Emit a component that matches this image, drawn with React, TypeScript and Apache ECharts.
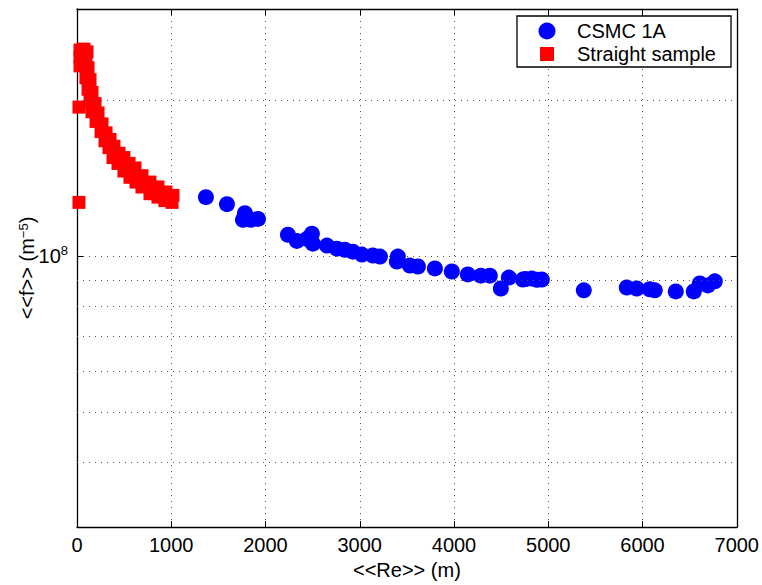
import React, { useEffect, useRef } from 'react';
import * as echarts from 'echarts';

// <<Re>> axis range and tick step
const reMin = 0;
const reMax = 7000;
const reStep = 1000;

// <<f>> log axis range
const fMin = 3e7;
const fMax = 3e8;

// dotted minor grid positions on the log axis
const fMinorGrid = [4e7, 5e7, 6e7, 7e7, 8e7, 9e7, 2e8];

// CSMC 1A
const csmcRe = [
  1368, 1591, 1782, 1761, 1845, 1920, 2238, 2333, 2492, 2503, 2440, 2652, 2758, 2842,
  2927, 3023, 3139, 3214, 3404, 3394, 3532, 3617, 3797, 3977, 4147, 4285, 4380, 4497,
  4582, 4730, 4760, 4826, 4880, 4932, 5377, 5833, 5939, 6077, 6130, 6353, 6544, 6608,
  6692, 6767,
];
const csmcF = [
  1.30e8, 1.26e8, 1.21e8, 1.175e8, 1.175e8, 1.18e8, 1.10e8, 1.07e8, 1.105e8, 1.057e8, 1.08e8, 1.048e8, 1.034e8, 1.029e8,
  1.02e8, 1.007e8, 1.003e8, 0.998e8, 0.998e8, 0.976e8, 0.959e8, 0.955e8, 0.947e8, 0.934e8, 0.922e8, 0.917e8, 0.917e8, 0.866e8,
  0.909e8, 0.901e8, 0.903e8, 0.905e8, 0.90e8, 0.901e8, 0.859e8, 0.870e8, 0.866e8, 0.863e8, 0.859e8, 0.855e8, 0.855e8, 0.886e8,
  0.878e8, 0.894e8,
];

// Straight sample
const straightRe = [
  21, 21, 32, 74, 32, 32, 106,
  95, 117, 138, 159, 191, 223, 265, 308, 350, 392, 445, 498, 552, 615, 689, 774, 859, 944, 1018,
  95, 117, 138, 159, 202, 255, 297, 339, 382, 435, 498, 562, 626, 689, 774, 859, 933, 1008,
];
const straightF = [
  1.94e8, 1.27e8, 2.50e8, 2.51e8, 2.42e8, 2.33e8, 2.48e8,
  2.42e8, 2.31e8, 2.19e8, 2.07e8, 1.97e8, 1.89e8, 1.80e8, 1.73e8, 1.68e8, 1.63e8, 1.58e8, 1.55e8, 1.51e8, 1.48e8, 1.43e8, 1.39e8, 1.36e8, 1.33e8, 1.31e8,
  2.21e8, 2.10e8, 1.99e8, 1.90e8, 1.82e8, 1.74e8, 1.67e8, 1.62e8, 1.55e8, 1.51e8, 1.46e8, 1.42e8, 1.39e8, 1.36e8, 1.32e8, 1.30e8, 1.28e8, 1.27e8,
];

const seriesNames = ['CSMC 1A', 'Straight sample'];

const FONT = 'Liberation Sans, Arial, Helvetica, sans-serif';
const GRID_DOT = { color: '#555', width: 1, type: [1, 5] as number[] };
const AXIS_LINE = { onZero: false, lineStyle: { color: '#000', width: 1.3 } };
const AXIS_TICK = { inside: true, length: 6, lineStyle: { color: '#000' } };

export default function App() {
  const ref = useRef<HTMLDivElement>(null);

  useEffect(() => {
    if (!ref.current) return;
    const chart = echarts.init(ref.current, null, { renderer: 'svg' });

    const zip = (xs: number[], ys: number[]) => xs.map((x, i) => [x, ys[i]]);

    chart.setOption({
      animation: false,
      backgroundColor: '#fff',
      grid: { left: 77, right: 24, top: 9, bottom: 55 },
      xAxis: [
        {
          type: 'value',
          min: reMin,
          max: reMax,
          interval: reStep,
          position: 'bottom',
          axisLine: AXIS_LINE,
          axisTick: AXIS_TICK,
          axisLabel: {
            color: '#000',
            fontSize: 20,
            fontFamily: FONT,
            margin: 8,
            formatter: (v: number) => String(v),
          },
          splitLine: { show: true, lineStyle: GRID_DOT },
          name: '<<Re>> (m)',
          nameLocation: 'middle',
          nameGap: 33,
          nameMoveOverlap: false,
          nameTextStyle: { color: '#000', fontSize: 20, fontFamily: FONT },
        },
        {
          type: 'value',
          min: reMin,
          max: reMax,
          interval: reStep,
          position: 'top',
          axisLine: AXIS_LINE,
          axisTick: AXIS_TICK,
          axisLabel: { show: false },
          splitLine: { show: false },
        },
      ],
      yAxis: [
        {
          type: 'log',
          logBase: 10,
          min: fMin,
          max: fMax,
          position: 'left',
          axisLine: AXIS_LINE,
          axisTick: AXIS_TICK,
          axisLabel: {
            color: '#000',
            margin: 9,
            formatter: (v: number) => (Math.abs(Math.log10(v) - 8) < 1e-6 ? '{b|10}{s|8}' : ''),
            rich: {
              b: { fontSize: 20, fontFamily: FONT, color: '#000', lineHeight: 24 },
              s: { fontSize: 13, fontFamily: FONT, color: '#000', verticalAlign: 'top', lineHeight: 13 },
            },
          },
          splitLine: { show: true, lineStyle: GRID_DOT },
          name: '<<f>> (m{s|−5})',
          nameLocation: 'middle',
          nameRotate: 90,
          nameGap: 40,
          nameMoveOverlap: false,
          nameTextStyle: {
            color: '#000',
            fontSize: 20,
            fontFamily: FONT,
            rich: {
              s: { fontSize: 13, fontFamily: FONT, color: '#000', verticalAlign: 'top', lineHeight: 13 },
            },
          },
        },
        {
          type: 'log',
          logBase: 10,
          min: fMin,
          max: fMax,
          position: 'right',
          axisLine: AXIS_LINE,
          axisTick: AXIS_TICK,
          axisLabel: { show: false },
          splitLine: { show: false },
        },
      ],
      series: [
        {
          name: 'grid',
          type: 'scatter',
          data: [],
          z: 1,
          silent: true,
          markLine: {
            silent: true,
            symbol: ['none', 'none'],
            label: { show: false },
            lineStyle: GRID_DOT,
            data: fMinorGrid.map((v) => ({ yAxis: v })),
          },
        },
        {
          name: seriesNames[0],
          type: 'scatter',
          symbol: 'circle',
          symbolSize: 16,
          itemStyle: { color: '#0000ff', opacity: 1 },
          data: zip(csmcRe, csmcF),
          z: 3,
        },
        {
          name: seriesNames[1],
          type: 'scatter',
          symbol: 'rect',
          symbolSize: 13,
          itemStyle: { color: '#ff0000', opacity: 1 },
          data: zip(straightRe, straightF),
          z: 3,
        },
      ],
      graphic: [
        {
          type: 'rect',
          z: 10,
          shape: { x: 517, y: 16, width: 214, height: 51 },
          style: { fill: '#fff', stroke: '#000', lineWidth: 1.3 },
        },
        {
          type: 'circle',
          z: 11,
          shape: { cx: 547, cy: 31, r: 8.5 },
          style: { fill: '#0000ff' },
        },
        {
          type: 'rect',
          z: 11,
          shape: { x: 540, y: 47, width: 14, height: 14 },
          style: { fill: '#ff0000' },
        },
        {
          type: 'text',
          z: 11,
          x: 577,
          y: 31,
          style: { text: seriesNames[0], fontSize: 20, fontFamily: FONT, fill: '#000', verticalAlign: 'middle' },
        },
        {
          type: 'text',
          z: 11,
          x: 577,
          y: 54,
          style: { text: seriesNames[1], fontSize: 20, fontFamily: FONT, fill: '#000', verticalAlign: 'middle' },
        },
      ],
    });

    return () => chart.dispose();
  }, []);

  return (
    <div
      ref={ref}
      style={{ position: 'absolute', left: 0, top: 0, width: 762, height: 585 }}
    />
  );
}
